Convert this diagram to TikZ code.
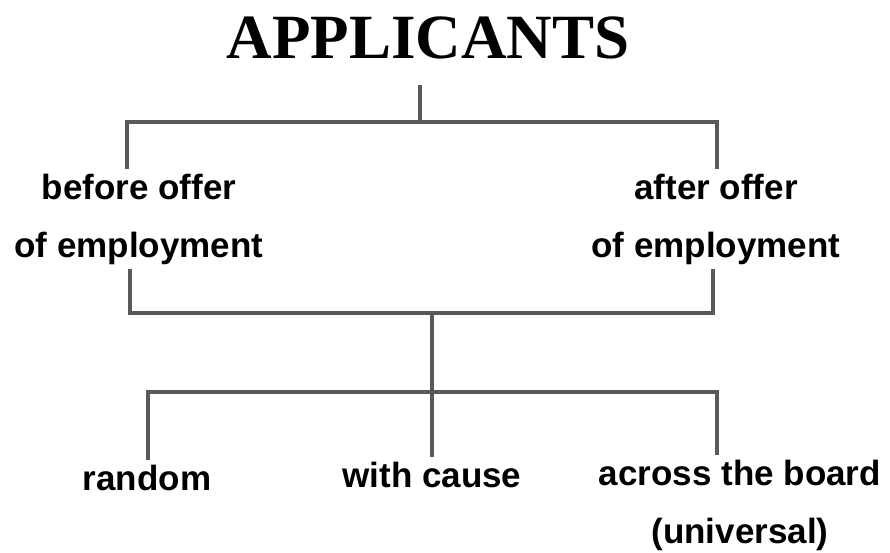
\documentclass[tikz,border=0pt]{standalone}
\usepackage{fontspec}
\setmainfont{Liberation Serif}
\setsansfont{Liberation Sans}

\begin{document}
\begin{tikzpicture}[x=1pt,y=-1pt,
    branch/.style={draw=black!65, line width=3.2pt},
    choice/.style={font=\sffamily\bfseries\fontsize{35}{58}\selectfont, inner sep=0pt, outer sep=5pt, align=center}]
    \useasboundingbox (0,0) rectangle (890,552);
    \node[font=\bfseries\fontsize{63}{70}\selectfont, inner sep=0pt] (title) at (428,38) {APPLICANTS};
    \node[choice] (before) at (139,219) {before offer\\of employment};
    \node[choice] (after) at (716,219) {after offer\\of employment};
    \node[choice] (random) at (147,478) {random};
    \node[choice] (cause) at (432,475) {with cause};
    \node[choice] (board) at (740,505) {across the board\\(universal)};
    \coordinate (top) at (420,85);
    \coordinate (split) at (420,122);
    \coordinate (join) at (432,313);
    \coordinate (fork) at (432,392);
    \draw[branch] (top) -- (split);
    \draw[branch] ([xshift=-12]before.north) |- (split) -| ([xshift=1]after.north);
    \draw[branch] ([xshift=-9]before.south) |- (join) -| ([xshift=-3]after.south);
    \draw[branch] (join) -- (cause.north);
    \draw[branch] ([xshift=1]random.north) |- (fork) -| ([xshift=-23]board.north);
\end{tikzpicture}
\end{document}
